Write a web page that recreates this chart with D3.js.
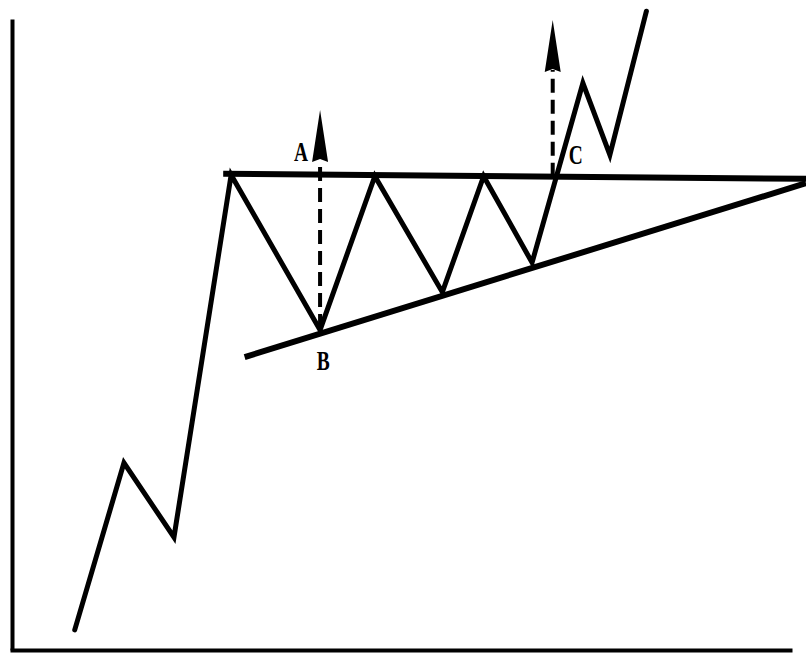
<!DOCTYPE html>
<html>
<head>
<meta charset="utf-8">
<script src="https://cdn.jsdelivr.net/npm/d3@7"></script>
<style>
  html, body { margin: 0; padding: 0; background: #fff; }
  .chart text { font-family: "Liberation Serif", "DejaVu Serif", serif; font-weight: bold; }
</style>
</head>
<body>
<div class="chart"></div>
<script>
const WIDTH = 806;
const HEIGHT = 656;

// price path (time, price) in chart units, 0..100 on both axes
const PRICE_T = [7.9, 14.1, 20.4, 27.6, 38.8, 45.7, 54.2, 59.4, 65.5, 71.9, 75.3, 79.9];
const PRICE_V = [3.2, 29.7, 17.9, 75.4, 50.8, 75.2, 56.8, 75.2, 61.5, 90.0, 78.6, 101.4];

// horizontal resistance and rising support line
const RESIST_T = [26.6, 100];
const RESIST_V = [75.6, 74.8];
const SUPPORT_T = [29.3, 100];
const SUPPORT_V = [46.5, 74.1];

// measuring arrows: A-B height, projected from breakout C
const ARROW_T = [38.8, 68.1];
const ARROW_FROM = [51.1, 75.1];
const ARROW_TO = [85.7, 100];

const LABELS = ["A", "B", "C"];
const LABEL_T = [36.4, 39.2, 71.0];
const LABEL_V = [77.6, 44.5, 77.1];

const LEFT = 12, RIGHT = 806, TOP = 20, BOTTOM = 650;

const svg = d3.select(".chart").append("svg").attr("width", WIDTH).attr("height", HEIGHT);

const xScale = d3.scaleLinear().domain([0, 100]).range([LEFT, RIGHT]);
const yScale = d3.scaleLinear().domain([0, 100]).range([BOTTOM, TOP]);

// Axes (plain lines, no ticks)
svg.append("g").attr("transform", `translate(0, ${BOTTOM})`)
  .call(d3.axisBottom(d3.scaleLinear().domain([0, 1]).range([LEFT - 2, 792])).ticks(0).tickSizeOuter(0))
  .call(g => g.select(".domain").attr("stroke", "#000").attr("stroke-width", 4));
svg.append("g").attr("transform", `translate(${LEFT}, 0)`)
  .call(d3.axisLeft(d3.scaleLinear().domain([0, 1]).range([BOTTOM, 19])).ticks(0).tickSizeOuter(0))
  .call(g => g.select(".domain").attr("stroke", "#000").attr("stroke-width", 4));

const line = d3.line().x(d => xScale(d[0])).y(d => yScale(d[1]));

// Triangle boundaries
svg.append("path").datum(d3.zip(RESIST_T, RESIST_V)).attr("d", line)
  .attr("fill", "none").attr("stroke", "#000").attr("stroke-width", 6);
svg.append("path").datum(d3.zip(SUPPORT_T, SUPPORT_V)).attr("d", line)
  .attr("fill", "none").attr("stroke", "#000").attr("stroke-width", 6);

// Price path
svg.append("path").datum(d3.zip(PRICE_T, PRICE_V)).attr("d", line)
  .attr("fill", "none").attr("stroke", "#000").attr("stroke-width", 5)
  .attr("stroke-linejoin", "miter").attr("stroke-linecap", "round");

// Dashed measuring arrows
const HEAD_LEN = 52, HEAD_W = 8;
ARROW_T.forEach((t, i) => {
  const x = xScale(t), y0 = yScale(ARROW_FROM[i]), y1 = yScale(ARROW_TO[i]);
  svg.append("line")
    .attr("x1", x).attr("x2", x).attr("y1", y0).attr("y2", y1 + HEAD_LEN - 2)
    .attr("stroke", "#000").attr("stroke-width", 4).attr("stroke-dasharray", "14,7");
  svg.append("path")
    .attr("d", `M${x},${y1} L${x - HEAD_W},${y1 + HEAD_LEN} L${x},${y1 + HEAD_LEN - 3} L${x + HEAD_W},${y1 + HEAD_LEN} Z`)
    .attr("fill", "#000");
});

// Labels
svg.selectAll(".lbl").data(LABELS).enter().append("text")
  .attr("class", "lbl")
  .attr("transform", (d, i) => `translate(${xScale(LABEL_T[i])}, ${yScale(LABEL_V[i])}) scale(0.72, 1)`)
  .attr("text-anchor", "middle")
  .attr("font-size", 27)
  .text(d => d);
</script>
</body>
</html>
